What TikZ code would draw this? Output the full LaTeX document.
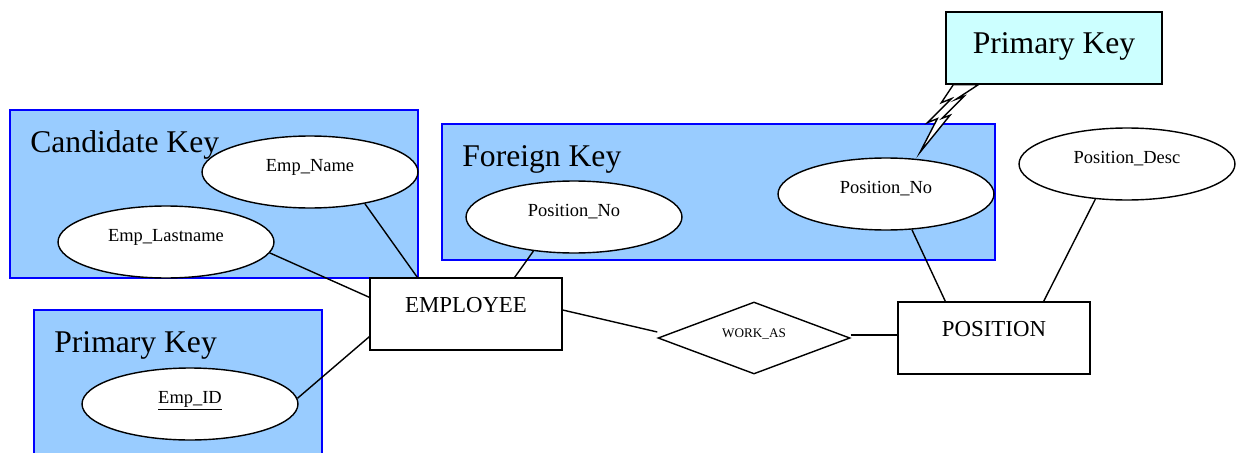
\documentclass[tikz,border=0pt]{standalone}
\usepackage{fontspec}
\setmainfont{Liberation Serif}
\usetikzlibrary{shapes.geometric,calc}
\definecolor{AzulClave}{RGB}{153,204,255}
\definecolor{AzulBorde}{RGB}{0,0,255}
\definecolor{CianNota}{RGB}{204,255,255}
\tikzset{
  keyzone/.style={draw=AzulBorde, line width=1.2pt, fill=AzulClave},
  keytitle/.style={anchor=base west, inner sep=0pt, font=\fontsize{18}{20}\selectfont},
  attrbox/.style={ellipse, draw, line width=0.8pt, fill=white, minimum width=4.32cm,
    minimum height=1.44cm, inner sep=0pt, text height=7pt, text depth=8pt,
    font=\fontsize{10.5}{12}\selectfont},
  entbox/.style={draw, line width=0.8pt, fill=white, minimum width=3.84cm,
    minimum height=1.44cm, inner sep=0pt, text height=9pt, text depth=10.6pt,
    font=\fontsize{13}{15}\selectfont},
  relbox/.style={diamond, aspect=2.67, draw, line width=0.8pt, fill=white,
    minimum width=3.84cm, minimum height=1.44cm, inner sep=0pt, text height=5pt,
    text depth=5.6pt, font=\fontsize{7.5}{9}\selectfont},
  notebox/.style={draw, line width=0.8pt, fill=CianNota, minimum width=4.32cm,
    minimum height=1.44cm, inner sep=0pt, text height=13pt, text depth=7.2pt,
    font=\fontsize{18}{20}\selectfont},
  boltshape/.style={draw, line width=0.8pt, fill=white, line join=miter},
  erline/.style={line width=0.8pt},
}

\begin{document}
\begin{tikzpicture}[x=0.02cm, y=-0.02cm]
  \useasboundingbox (0,0) rectangle (1242,453);

  % zonas de claves
  \draw[keyzone] (10,110) rectangle (418,278);
  \draw[keyzone] (442,124) rectangle (995,260);
  \draw[keyzone] (34,310) rectangle (322,470);
  \node[keytitle] (candtitle) at (30,152) {Candidate Key};
  \node[keytitle] (fortitle) at (462,166) {Foreign Key};
  \node[keytitle] (pktitle) at (54,352) {Primary Key};

  \node[attrbox] (empname) at (310,172) {Emp\_Name};
  \node[attrbox] (emplast) at (166,242) {Emp\_Lastname};
  \node[attrbox] (empid) at (190,404) {\underline{Emp\_ID}};
  \node[attrbox] (posno1) at (574,217) {Position\_No};
  \node[attrbox] (posno2) at (886,194) {Position\_No};
  \node[attrbox] (posdesc) at (1127,164) {Position\_Desc};

  \node[entbox] (employee) at (466,314) {EMPLOYEE};
  \node[relbox] (workas) at (754,338) {WORK\_AS};
  \node[entbox] (position) at (994,338) {POSITION};

  \draw[erline] (empname.330) -- ($(employee.north west)+(48,0)$);
  \draw[erline] (emplast.354) -- ($(employee.north west)+(0,20)$);
  \draw[erline] (empid.3) -- ($(employee.south west)+(0,-14)$);
  \draw[erline] (posno1.220) -- ($(employee.north east)+(-48,0)$);
  \draw[erline] ([yshift=0.08cm]employee.east) -- ([yshift=0.12cm]workas.west);
  \draw[erline] ([yshift=0.06cm]workas.east) -- ([yshift=0.06cm]position.west);
  \draw[erline] (posno2.306) -- ($(position.north west)+(48,0)$);
  \draw[erline] (posdesc.228) -- ($(position.north east)+(-47,0)$);

  % nota con rayo
  \node[notebox] (pkcall) at (1054,48) {Primary Key};
  \coordinate (bolttip) at ($(posno2.north)+(34,-5)$);
  \draw[boltshape] ($(pkcall.south west)+(8,0)$) -- ++(-12,18) -- ++(10,-4)
    -- ++(-24,24) -- ++(10,-4) -- (bolttip) -- ++(30,-37) -- ++(-8,3)
    -- ++(22,-22) -- ++(-8,3) -- ($(pkcall.south west)+(33,0)$) -- cycle;
\end{tikzpicture}
\end{document}
